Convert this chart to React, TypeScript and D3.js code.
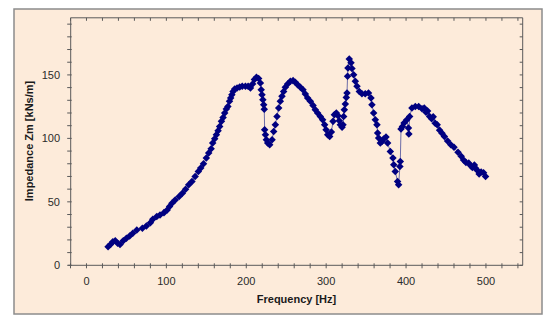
import React from "react";
import * as d3 from "d3";

const freq = [
  27, 30, 33, 36, 39, 42, 46, 50, 54, 58, 63, 70, 75, 80, 83, 88, 92, 97, 101, 104,
  107, 111, 116, 120, 124, 128, 132, 136, 140, 143, 146.5, 150, 153, 156, 158, 160.5, 162.6, 164.7, 166.7, 168.9,
  171, 173, 175, 177, 179, 180.5, 182, 183.5, 185.5, 188.5, 191.8, 195, 199, 202.3, 205.2, 208, 210.2, 212.7, 215.5, 217.7,
  218.7, 219.7, 220.8, 221.8, 222.5, 223, 224, 225.2, 226.8, 229.3, 232.3, 234.3, 236.4, 238.5, 240.6, 242.6, 244.7, 246.8, 248.9, 251.8,
  255.2, 258.6, 261.4, 264.3, 267.7, 271, 273.9, 276.8, 280.2, 283.6, 286.4, 289.3, 292.7, 295.6, 298.1, 299.9, 301.9, 304.4, 306.5, 308.6,
  310.3, 312.7, 314.9, 316.5, 317.7, 319.9, 321.1, 321.9, 322.7, 324, 325.2, 326.1, 326.8, 327.3, 328.9, 331.1, 332.3, 334.4, 336.5, 338.6,
  341.5, 344.8, 348.9, 353, 356.1, 357.3, 359.4, 361.5, 363.6, 364.4, 365.7, 367.8, 369.8, 372, 374.9, 376.9, 380.3, 383.6, 384.6, 386.5,
  389.4, 390.7, 392.3, 392.8, 393.7, 395.5, 397.5, 401, 403, 403.5, 404.5, 407.4, 411.6, 415.8, 420, 422.8, 425, 427, 429.5, 432,
  434, 436.5, 439, 442, 445, 448, 452, 456, 460, 465, 469, 472, 475, 478.5, 481, 483, 485.5, 487, 489, 491.5,
  494, 497, 499.5,
];

const impedance = [
  14.7, 16.3, 18.6, 19.4, 17.4, 16.3, 19.4, 21.3, 23.1, 25.2, 27.9, 29.2, 31, 33.6, 36.3, 38.4, 39.7, 41.5, 43.6, 46.3,
  48.9, 51.5, 54.2, 56.8, 60, 63.4, 66, 70, 73.9, 76.6, 80, 84.5, 88.4, 91.8, 96.3, 99.7, 102.9, 106, 109.4, 113.4,
  116.5, 120, 123.2, 125.2, 129.2, 131.8, 134.4, 137, 138.9, 139.7, 140.5, 141, 141, 141, 139.7, 142.9, 146.3, 148.1, 147.1, 143.7,
  138.4, 134.4, 130.5, 126.5, 123, 106.8, 102.9, 98.9, 96.3, 95, 98.9, 105.5, 110.8, 117.3, 124, 129.2, 133.1, 137, 140.2, 142.9,
  145, 145.5, 144.2, 142.3, 140.2, 138.4, 135, 131.8, 129.2, 126, 122.6, 120, 117.3, 114.7, 110.8, 106.8, 102.9, 101.5, 105, 113.4,
  118.7, 120, 117.9, 113.9, 110.8, 108.7, 110.8, 117.3, 122.6, 127.1, 132.3, 135.8, 148.9, 155.5, 162.6, 159.5, 155, 150.2, 145, 141,
  137, 135.2, 135.2, 135.8, 131.8, 126.5, 120, 114.7, 110.8, 104.2, 100.3, 96.3, 97.6, 99.5, 101, 96.3, 89.7, 84.5, 79.2, 73.9,
  66, 63.4, 77.8, 81.8, 107.4, 109.4, 112.1, 114.7, 108.2, 103.4, 117.3, 124, 125.2, 125.2, 123.4, 124, 120.5, 121.5, 117.3, 115.5,
  117, 112, 110.8, 106.5, 104, 101.5, 98, 95, 93, 89, 86, 83, 81, 80.5, 78.5, 77, 79, 76.5, 74.8, 72,
  73.5, 73, 70,
];

const xTicks = [0, 100, 200, 300, 400, 500];
const yTicks = [0, 50, 100, 150];
const xTitle = "Frequency [Hz]";
const yTitle = "Impedance Zm [kNs/m]";

const W = 550;
const H = 322;
const L = 70.7, R = 522.7, T = 17.8, B = 265.3;

export default function App() {
  const x = d3.scaleLinear().domain([-20, 546]).range([L - 0.2, R]);
  const y = d3.scaleLinear().domain([0, 195]).range([B, T]);
  const pts = freq.map((f, i) => [f, impedance[i]] as [number, number]);
  const line = d3.line<[number, number]>().x((d) => x(d[0])).y((d) => y(d[1]));
  const diamond = d3.symbol().type(d3.symbolDiamond2).size(36)();
  const minorX = d3.range(-20, 546, 20);
  const minorY = d3.range(0, 196, 10);
  const axisColor = "#5a5a5a";
  const font = "Liberation Sans, Arial, sans-serif";

  return (
    <svg width={W} height={H} style={{ position: "absolute", left: 0, top: 0 }} fontFamily={font}>
      <rect x={0} y={0} width={W} height={H} fill="#ffffff" />
      <rect x={14} y={9} width={528} height={305} fill="#FDEBDA" stroke="#8c8c8c" strokeWidth={1.5} />
      <line x1={L} x2={R} y1={T} y2={T} stroke={axisColor} strokeWidth={1} />
      <line x1={R} x2={R} y1={T} y2={B} stroke={axisColor} strokeWidth={1} />
      <line x1={L} x2={L} y1={T} y2={B} stroke={axisColor} strokeWidth={1} />
      <line x1={L - 2.5} x2={R} y1={B} y2={B} stroke={axisColor} strokeWidth={1} />
      {minorX.map((v) => (
        <g key={"xt" + v}>
          <line x1={x(v)} x2={x(v)} y1={B - 2} y2={B + 3} stroke={axisColor} />
          <line x1={x(v)} x2={x(v)} y1={T} y2={T + 3} stroke={axisColor} />
        </g>
      ))}
      {minorY.map((v) => (
        <g key={"yt" + v}>
          <line x1={L - 3.5} x2={L + 1} y1={y(v)} y2={y(v)} stroke={axisColor} />
          <line x1={R - 3} x2={R} y1={y(v)} y2={y(v)} stroke={axisColor} />
        </g>
      ))}
      {xTicks.map((v) => (
        <text key={"xl" + v} x={x(v)} y={285} textAnchor="middle" fontSize={11} fill="#2b2b2b">
          {v}
        </text>
      ))}
      {yTicks.map((v) => (
        <text key={"yl" + v} x={60} y={y(v) + 4} textAnchor="end" fontSize={11} fill="#2b2b2b">
          {v}
        </text>
      ))}
      <text x={296.5} y={303} textAnchor="middle" fontSize={11} fontWeight="bold" fill="#1a1a1a">
        {xTitle}
      </text>
      <text
        transform={`translate(33,${141}) rotate(-90)`}
        textAnchor="middle"
        fontSize={11}
        fontWeight="bold"
        fill="#1a1a1a"
      >
        {yTitle}
      </text>
      <path d={line(pts) || ""} fill="none" stroke="#6d6da8" strokeWidth={1} />
      {pts.map((p, i) => (
        <path key={"m" + i} d={diamond || ""} transform={`translate(${x(p[0])},${y(p[1])})`} fill="#000080" />
      ))}
    </svg>
  );
}
